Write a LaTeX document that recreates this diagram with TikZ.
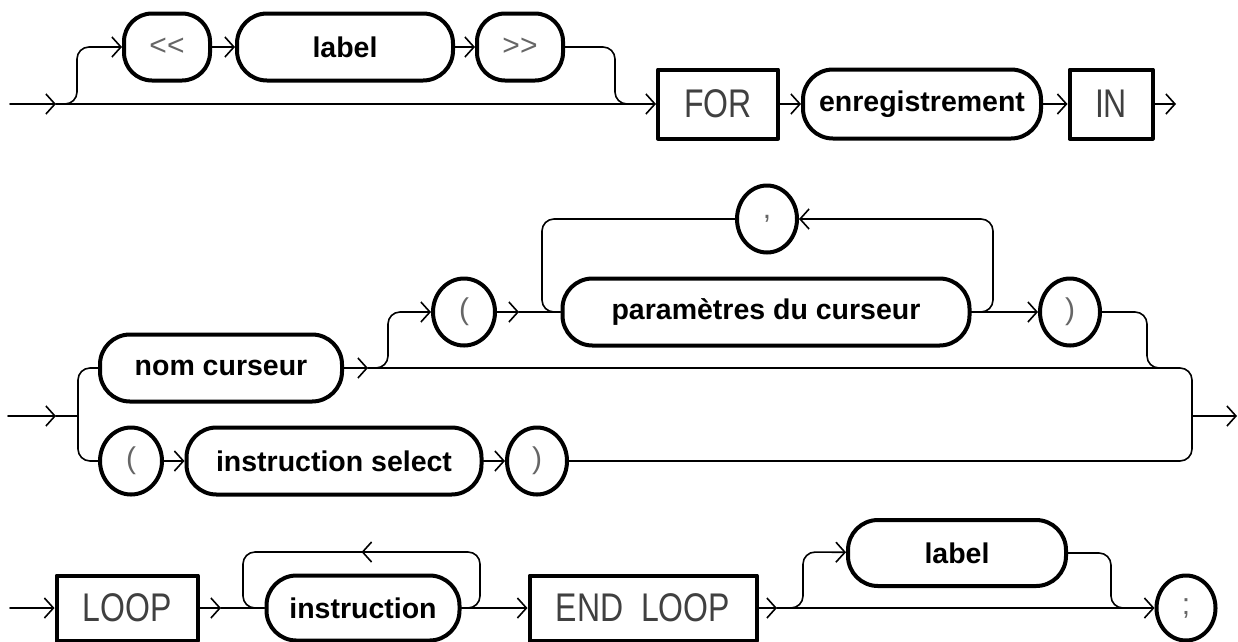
\documentclass[tikz,border=0pt]{standalone}
\usepackage{fontspec}
\setmainfont{Liberation Sans}
\newfontfamily\kwfont[FakeStretch=0.8]{Liberation Sans}
\usetikzlibrary{backgrounds,arrows.meta,shapes.geometric,decorations.markings}

\begin{document}
\begin{tikzpicture}[
  line cap=round,
  line join=round,
  line width=1.6pt,
  x=1pt,
  y=-1pt,
  show background rectangle,
  inner frame sep=0pt,
  background rectangle/.style={
    fill=white,
    draw=none,
  },
  link/.style={line width=1.6pt},
  arr/.style={link, -{Straight Barb[length=9pt,width=20pt]}},
  corner/.style={rounded corners=12pt},
  midarr/.style={postaction={decorate}, decoration={markings, mark=at position 0.5 with {\arrow{Straight Barb[length=9pt,width=20pt]}}}},
  nonterm/.style={draw, line width=4pt, rounded corners=30pt, inner sep=0pt, minimum height=67pt, font=\bfseries\fontsize{28.5}{30}\selectfont},
  kw/.style={draw, line width=4pt, inner sep=0pt, minimum height=67pt, text=black!75, font=\kwfont\fontsize{40}{42}\selectfont},
  sym/.style={draw, ellipse, line width=4pt, inner sep=0pt, minimum width=60pt, minimum height=67pt, text=black!60, font=\fontsize{30}{32}\selectfont},
]

  \useasboundingbox (0,0) rectangle (1238,641);

  \node[sym, rectangle, rounded corners=28pt, minimum width=86pt] (ltlt) at (167,47) {<{}<};
  \node[nonterm, minimum width=216pt] (label1) at (345,47) {label};
  \node[sym, rectangle, rounded corners=28pt, minimum width=86pt] (gtgt) at (520,47) {>{}>};
  \node[kw, minimum width=120pt, minimum height=69pt] (for) at (718,104) {FOR};
  \node[nonterm, minimum width=238pt, minimum height=69pt] (enreg) at (922,104) {enregistrement};
  \node[kw, minimum width=83pt, minimum height=69pt] (in) at (1111,104) {IN};

  \node[sym] (comma) at (767,219) {,};
  \node[sym, minimum width=62pt] (lpar) at (464,312) {(};
  \node[nonterm, minimum width=407pt] (params) at (766,312) {paramètres du curseur};
  \node[sym] (rpar) at (1070,312) {)};
  \node[nonterm, minimum width=242pt] (nomcur) at (221,368) {nom curseur};
  \node[sym, minimum width=62pt] (lpar2) at (131,461) {(};
  \node[nonterm, minimum width=295pt] (select) at (334,461) {instruction select};
  \node[sym] (rpar2) at (537,461) {)};

  \node[kw, minimum width=141pt, minimum height=65pt] (loop) at (127,608) {LOOP};
  \node[nonterm, minimum width=193pt, minimum height=65pt] (instr) at (363,608) {instruction};
  \node[kw, minimum width=227pt, minimum height=65pt] (endloop) at (643,608) {END\ \ LOOP};
  \node[nonterm, minimum width=218pt, minimum height=66pt] (label2) at (957,553) {label};
  \node[sym, minimum width=59pt, minimum height=65pt] (semi) at (1186,608) {;};

  \coordinate (a1) at (10,104);
  \coordinate (b1) at (56,104);
  \coordinate (c1) at (65,104);
  \coordinate (d1) at (77,47);
  \coordinate (e1) at (615,104);
  \coordinate (f1) at (627,104);
  \coordinate (g1) at (1176,104);

  \draw[arr] (a1) -- (b1);
  \draw[arr] (b1) -- (for);
  \draw[arr, corner] (c1) -| (d1) -- (ltlt);
  \draw[arr] (ltlt) -- (label1);
  \draw[arr] (label1) -- (gtgt);
  \draw[link, corner] (gtgt) -| (e1) -- (f1);
  \draw[arr] (for) -- (enreg);
  \draw[arr] (enreg) -- (in);
  \draw[arr] (in) -- (g1);

  \coordinate (a2) at (8,416);
  \coordinate (b2) at (56,416);
  \coordinate (c2) at (78,416);
  \coordinate (d2) at (368,368);
  \coordinate (e2) at (376,368);
  \coordinate (f2) at (388,312);
  \coordinate (g2) at (519,312);
  \coordinate (h2) at (555,312);
  \coordinate (i2) at (542,219);
  \coordinate (j2) at (993,219);
  \coordinate (k2) at (1147,368);
  \coordinate (l2) at (1160,368);
  \coordinate (m2) at (1192,461);
  \coordinate (n2) at (1192,416);
  \coordinate (o2) at (1237,416);

  \draw[arr] (a2) -- (b2);
  \draw[link] (b2) -- (c2);
  \draw[link, corner] (c2) |- (nomcur);
  \draw[link, corner] (c2) |- (lpar2);
  \draw[arr] (lpar2) -- (select);
  \draw[arr] (select) -- (rpar2);
  \draw[arr] (nomcur) -- (d2);
  \draw[link, corner] (d2) -| (m2) -- (rpar2);
  \draw[arr] (n2) -- (o2);
  \draw[arr, corner] (e2) -| (f2) -- (lpar);
  \draw[arr] (lpar) -- (g2);
  \draw[link] (g2) -- (params);
  \draw[link, corner] (h2) -| (i2) -- (comma);
  \draw[arr, corner] (params) -| (j2) -- (comma);
  \draw[arr] (params) -- (rpar);
  \draw[link, corner] (rpar) -| (k2) -- (l2);

  \coordinate (a3) at (10,608);
  \coordinate (b3) at (221,608);
  \coordinate (c3) at (470,608);
  \coordinate (d3) at (480,552);
  \coordinate (e3) at (243,552);
  \coordinate (f3) at (257,608);
  \coordinate (g3) at (777,608);
  \coordinate (h3) at (791,608);
  \coordinate (i3) at (803,552);
  \coordinate (j3) at (1111,608);
  \coordinate (k3) at (1125,608);

  \draw[arr] (a3) -- (loop);
  \draw[arr] (loop) -- (b3);
  \draw[link] (b3) -- (instr);
  \draw[link, corner, midarr] (c3) -| (d3) -- (e3) |- (f3);
  \draw[arr] (instr) -- (endloop);
  \draw[arr] (endloop) -- (g3);
  \draw[arr] (g3) -- (semi);
  \draw[arr, corner] (h3) -| (i3) -- (label2);
  \draw[link, corner] (label2) -| (j3) -- (k3);

\end{tikzpicture}
\end{document}
